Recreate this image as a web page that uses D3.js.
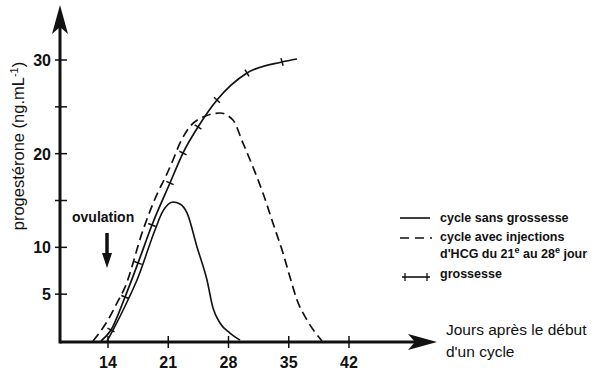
<!DOCTYPE html>
<html>
<head>
<meta charset="utf-8">
<script src="https://cdn.jsdelivr.net/npm/d3@7"></script>
<style>
  body { margin: 0; background: #fff; }
  svg text { font-family: "Liberation Sans", Arial, sans-serif; fill: #111; }
</style>
</head>
<body>
<div id="chart"></div>
<script>
// cycle sans grossesse
const cycleDays = [13.88, 14.58, 16.32, 17.37, 19.46, 20.27, 21.55, 22.37, 23.18, 24.34, 25.5, 26.2, 27.01, 28.17, 29.34];
const cycleProg = [0, 1.17, 4.38, 6.51, 11.85, 13.67, 14.84, 14.62, 13.67, 10.04, 6.51, 3.52, 1.92, 0.85, 0.1];

// cycle avec injections d'HCG
const hcgDays = [12.26, 13.07, 14.0, 15.05, 15.98, 18.07, 19.81, 20.62, 21.55, 22.37, 23.53, 25.27, 27.01, 28.52, 29.68, 30.84, 32.0, 33.16, 34.33, 35.14, 35.96, 37.12, 38.86];
const hcgProg = [0, 0.96, 2.24, 4.06, 5.76, 11.85, 15.91, 17.4, 19.32, 21.14, 22.9, 24.0, 24.34, 23.59, 21.14, 18.58, 15.8, 12.6, 9.39, 6.83, 4.38, 2.24, 0];

// grossesse (the crosses sit on the inner points)
const pregDays = [13.19, 14.35, 15.98, 17.49, 19.11, 21.2, 22.71, 24.46, 26.66, 30.15, 34.22, 35.96];
const pregProg = [0, 1.17, 4.7, 8.33, 12.38, 16.87, 20.07, 22.85, 25.73, 28.61, 29.79, 30.11];

const xTicks = [14, 21, 28, 35, 42];
const yTicks = [5, 10, 15, 20, 25, 30];
const yLabels = [5, 10, 20, 30];

const W = 600, H = 375;
const svg = d3.select("#chart").append("svg")
    .attr("width", W)
    .attr("height", H);

const x = d3.scaleLinear().domain([14, 42]).range([108, 349]);
const y = d3.scaleLinear().domain([0, 30]).range([341, 60]);

const x0 = 60, yAxis = 342;

// axes lines + arrows
svg.append("line")
    .attr("x1", x0).attr("y1", yAxis)
    .attr("x2", 425).attr("y2", yAxis)
    .attr("stroke", "#111").attr("stroke-width", 3);
svg.append("path")
    .attr("d", `M437,${yAxis} L408,${yAxis - 8} L415,${yAxis} L408,${yAxis + 8} Z`)
    .attr("fill", "#111");

svg.append("line")
    .attr("x1", x0).attr("y1", yAxis + 1.5)
    .attr("x2", x0).attr("y2", 20)
    .attr("stroke", "#111").attr("stroke-width", 3);
svg.append("path")
    .attr("d", `M${x0},5 L${x0 - 8},34 L${x0},27 L${x0 + 8},34 Z`)
    .attr("fill", "#111");

// x ticks
svg.selectAll(".xt").data(xTicks).join("line")
    .attr("x1", d => x(d)).attr("x2", d => x(d))
    .attr("y1", yAxis - 6).attr("y2", yAxis + 6)
    .attr("stroke", "#111").attr("stroke-width", 1.5);
svg.selectAll(".xl").data(xTicks).join("text")
    .attr("x", d => x(d)).attr("y", 368)
    .attr("text-anchor", "middle")
    .style("font-size", "16px").style("font-weight", "bold")
    .text(d => d);

// y ticks
svg.selectAll(".yt").data(yTicks).join("line")
    .attr("x1", x0 - 5).attr("x2", x0 + 7)
    .attr("y1", d => y(d)).attr("y2", d => y(d))
    .attr("stroke", "#111").attr("stroke-width", 1.5);
svg.selectAll(".yl").data(yLabels).join("text")
    .attr("x", 51).attr("y", d => y(d) + 6)
    .attr("text-anchor", "end")
    .style("font-size", "16px").style("font-weight", "bold")
    .text(d => d);

// curves
const line = d3.line()
    .x(d => x(d[0])).y(d => y(d[1]))
    .curve(d3.curveMonotoneX);

const cycle = d3.zip(cycleDays, cycleProg);
const hcg = d3.zip(hcgDays, hcgProg);
const preg = d3.zip(pregDays, pregProg);

svg.append("path").attr("d", line(cycle))
    .attr("fill", "none").attr("stroke", "#111").attr("stroke-width", 1.6);
svg.append("path").attr("d", line(hcg))
    .attr("fill", "none").attr("stroke", "#111").attr("stroke-width", 1.7)
    .attr("stroke-dasharray", "9,5");
svg.append("path").attr("d", line(preg))
    .attr("fill", "none").attr("stroke", "#111").attr("stroke-width", 1.7);

// cross marks perpendicular to the grossesse curve
const crosses = preg.slice(1, -1).map((p, i) => {
    const a = preg[i], b = preg[i + 2];
    const dx = x(b[0]) - x(a[0]), dy = y(b[1]) - y(a[1]);
    const len = Math.hypot(dx, dy);
    return { cx: x(p[0]), cy: y(p[1]), nx: -dy / len, ny: dx / len };
});
svg.selectAll(".cross").data(crosses).join("line")
    .attr("x1", d => d.cx - d.nx * 4).attr("y1", d => d.cy - d.ny * 4)
    .attr("x2", d => d.cx + d.nx * 4).attr("y2", d => d.cy + d.ny * 4)
    .attr("stroke", "#111").attr("stroke-width", 1.5);

// ovulation marker
svg.append("text")
    .attr("x", 72).attr("y", 222)
    .style("font-size", "14px").style("font-weight", "bold")
    .text("ovulation");
svg.append("line")
    .attr("x1", 107).attr("y1", 233).attr("x2", 107).attr("y2", 256)
    .attr("stroke", "#111").attr("stroke-width", 3.5);
svg.append("path")
    .attr("d", "M107,268 L102,253 L112,253 Z")
    .attr("fill", "#111");

// axis titles
svg.append("text")
    .attr("x", 446).attr("y", 335)
    .style("font-size", "15.5px")
    .text("Jours après le début");
svg.append("text")
    .attr("x", 446).attr("y", 357)
    .style("font-size", "15.5px")
    .text("d'un cycle");

const yt = svg.append("text")
    .attr("transform", "translate(24,146) rotate(-90)")
    .attr("text-anchor", "middle")
    .style("font-size", "16.5px");
yt.append("tspan").text("progestérone (ng.mL");
yt.append("tspan").attr("dy", -6).style("font-size", "11px").text("-1");
yt.append("tspan").attr("dy", 6).text(")");

// legend
const lg = svg.append("g").style("font-size", "12.5px").style("font-weight", "bold");
lg.append("line").attr("x1", 400).attr("x2", 430).attr("y1", 218).attr("y2", 218)
    .attr("stroke", "#111").attr("stroke-width", 1.6);
lg.append("text").attr("x", 440).attr("y", 222).text("cycle sans grossesse");

lg.append("line").attr("x1", 400).attr("x2", 432).attr("y1", 238).attr("y2", 238)
    .attr("stroke", "#111").attr("stroke-width", 1.7).attr("stroke-dasharray", "9,6");
lg.append("text").attr("x", 440).attr("y", 241).text("cycle avec injections");
const l2 = lg.append("text").attr("x", 440).attr("y", 258);
l2.append("tspan").text("d'HCG du 21");
l2.append("tspan").attr("dy", -5).style("font-size", "9px").text("e");
l2.append("tspan").attr("dy", 5).text(" au 28");
l2.append("tspan").attr("dy", -5).style("font-size", "9px").text("e");
l2.append("tspan").attr("dy", 5).text(" jour");

lg.append("line").attr("x1", 402).attr("x2", 430).attr("y1", 277).attr("y2", 277)
    .attr("stroke", "#111").attr("stroke-width", 1.6);
lg.selectAll(".lgt").data([405, 427]).join("line")
    .attr("x1", d => d).attr("x2", d => d).attr("y1", 273).attr("y2", 281)
    .attr("stroke", "#111").attr("stroke-width", 1.3);
lg.append("text").attr("x", 440).attr("y", 278).text("grossesse");
</script>
</body>
</html>
